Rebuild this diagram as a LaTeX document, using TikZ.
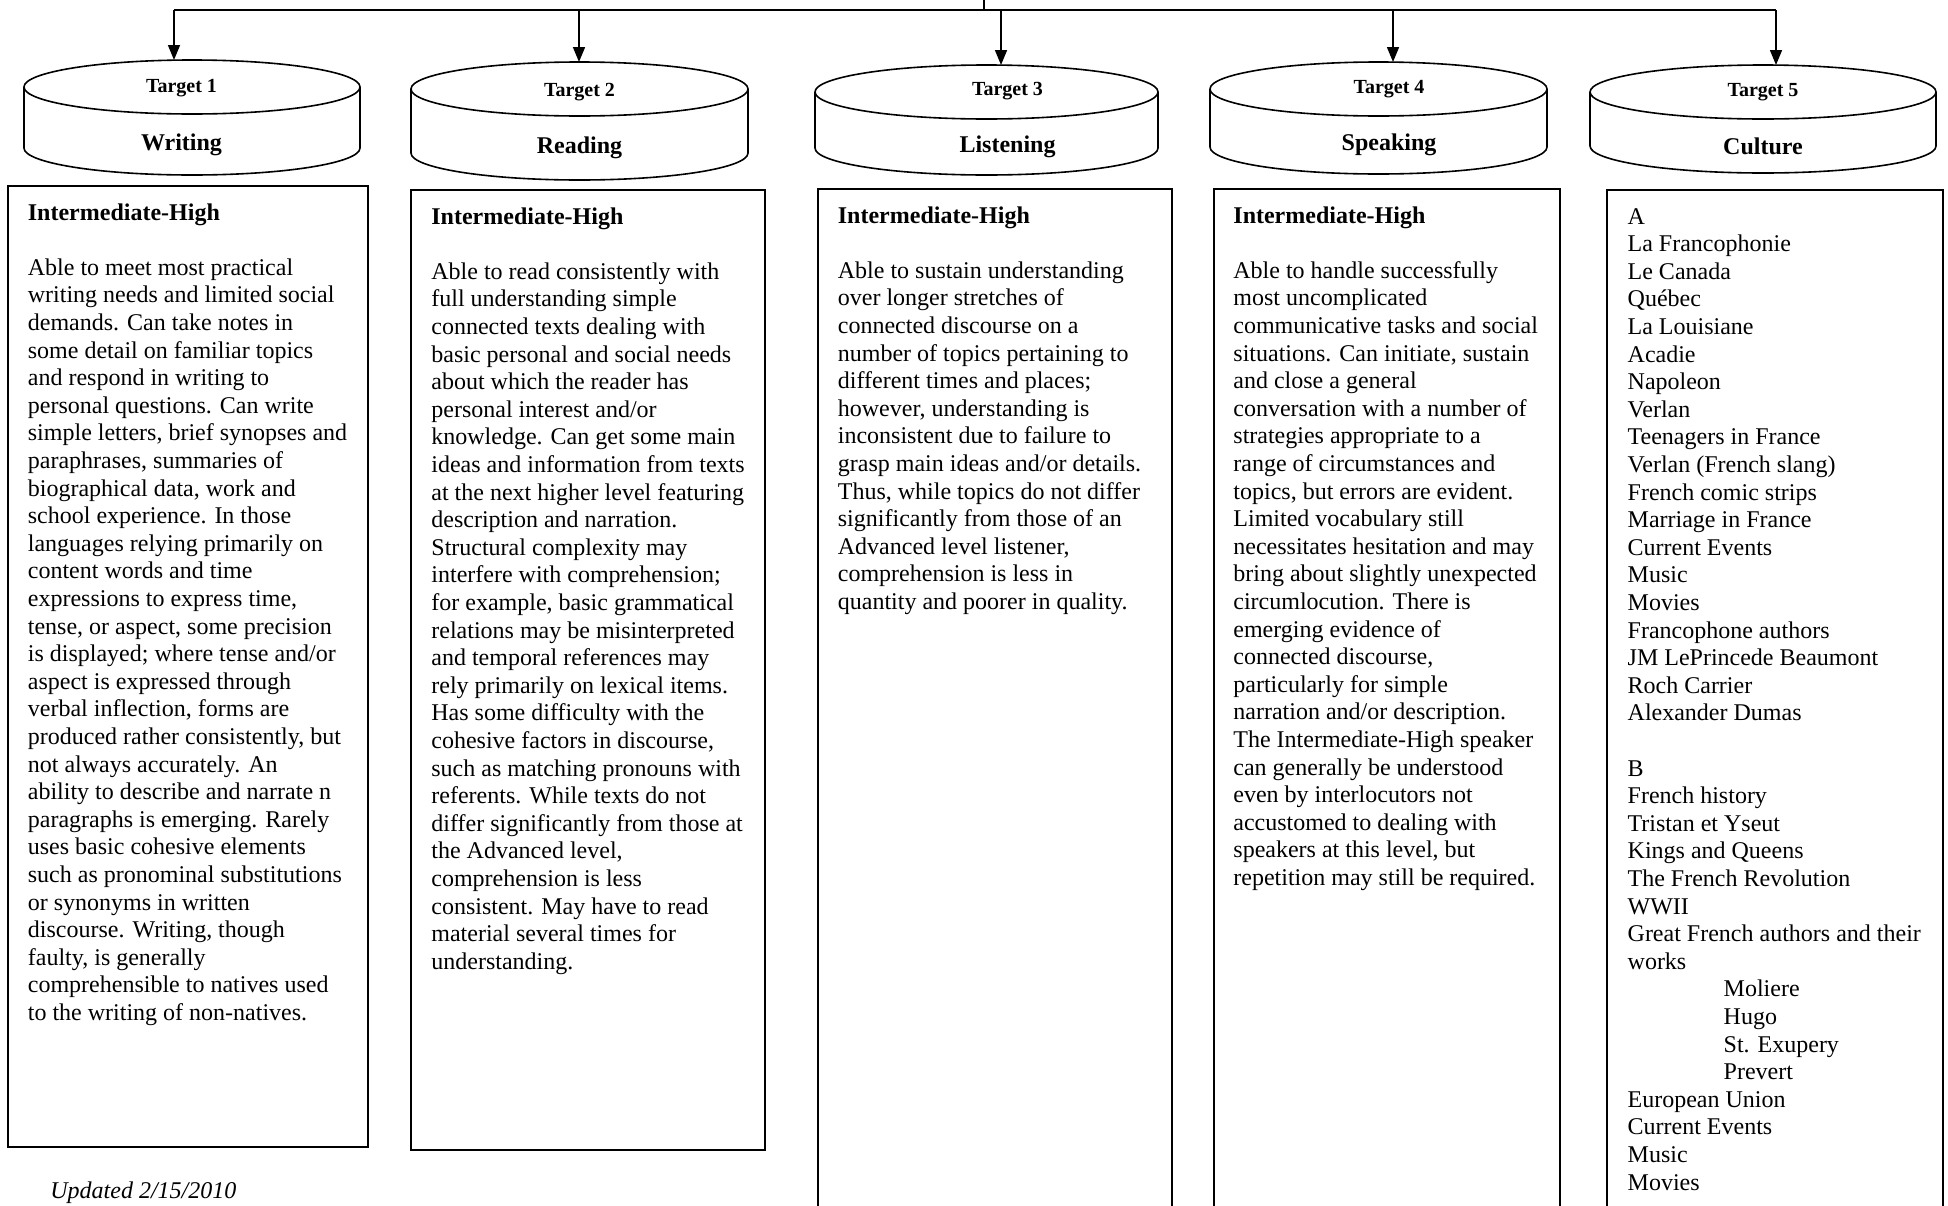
\documentclass[tikz,border=0pt]{standalone}
\usepackage{fontspec}
\setmainfont{Liberation Serif}
\usepackage{tikz}
\usetikzlibrary{arrows.meta,positioning}

\begin{document}
\begin{tikzpicture}[
  x=0.5pt, y=-0.5pt,
  drum/.style={rectangle, inner sep=0pt, outer sep=0pt, align=center, font=\bfseries\fontsize{12}{13.8}\selectfont},
  rim/.style={line width=0.8pt},
  panel/.style={rectangle, draw, line width=1pt, inner sep=0pt},
  blurb/.style={align=left, inner sep=0pt, font=\fontsize{12}{13.8}\selectfont},
  arrow/.style={-{Triangle[length=7.5pt,width=6pt]}, line width=0.8pt}
]
  \useasboundingbox (0,0) rectangle (1948,1205);

  % targets
  \node[drum, minimum width=168pt, minimum height=57.5pt] (cyl1) at (192,117.5) {{\fontsize{10}{12}\selectfont Target 1}\hspace*{10.5pt}\\[15pt]Writing\hspace*{10.5pt}};
  \node[drum, minimum width=168.5pt, minimum height=59pt] (cyl2) at (579.5,121) {{\fontsize{10}{12}\selectfont Target 2}\\[15pt]Reading};
  \node[drum, minimum width=171.5pt, minimum height=55pt] (cyl3) at (986.5,120) {\hspace*{21pt}{\fontsize{10}{12}\selectfont Target 3}\\[15pt]\hspace*{21pt}Listening};
  \node[drum, minimum width=168.5pt, minimum height=56pt] (cyl4) at (1378.5,118) {\hspace*{10.5pt}{\fontsize{10}{12}\selectfont Target 4}\\[15pt]\hspace*{10.5pt}Speaking};
  \node[drum, minimum width=173pt, minimum height=54pt] (cyl5) at (1763,119) {{\fontsize{10}{12}\selectfont Target 5}\\[15pt]Culture};

  \draw[rim] ([yshift=-13.5pt]cyl1.north) ellipse [x radius=84pt, y radius=13.5pt]
    ([yshift=-13.5pt]cyl1.north west) -- ([yshift=13.5pt]cyl1.south west) arc [start angle=180, end angle=360, x radius=84pt, y radius=13.5pt] -- ([yshift=-13.5pt]cyl1.north east);
  \draw[rim] ([yshift=-13.5pt]cyl2.north) ellipse [x radius=84.25pt, y radius=13.5pt]
    ([yshift=-13.5pt]cyl2.north west) -- ([yshift=13.5pt]cyl2.south west) arc [start angle=180, end angle=360, x radius=84.25pt, y radius=13.5pt] -- ([yshift=-13.5pt]cyl2.north east);
  \draw[rim] ([yshift=-13.5pt]cyl3.north) ellipse [x radius=85.75pt, y radius=13.5pt]
    ([yshift=-13.5pt]cyl3.north west) -- ([yshift=13.5pt]cyl3.south west) arc [start angle=180, end angle=360, x radius=85.75pt, y radius=13.5pt] -- ([yshift=-13.5pt]cyl3.north east);
  \draw[rim] ([yshift=-13.5pt]cyl4.north) ellipse [x radius=84.25pt, y radius=13.5pt]
    ([yshift=-13.5pt]cyl4.north west) -- ([yshift=13.5pt]cyl4.south west) arc [start angle=180, end angle=360, x radius=84.25pt, y radius=13.5pt] -- ([yshift=-13.5pt]cyl4.north east);
  \draw[rim] ([yshift=-13.5pt]cyl5.north) ellipse [x radius=86.5pt, y radius=13.5pt]
    ([yshift=-13.5pt]cyl5.north west) -- ([yshift=13.5pt]cyl5.south west) arc [start angle=180, end angle=360, x radius=86.5pt, y radius=13.5pt] -- ([yshift=-13.5pt]cyl5.north east);

  % panels
  \node[panel, minimum width=180.25pt, minimum height=480.5pt] (box1) at (187.75,666.5) {};
  \node[panel, minimum width=177pt, minimum height=480pt] (box2) at (588,670) {};
  \node[panel, minimum width=177pt, minimum height=535.5pt] (box3) at (994.5,724.5) {};
  \node[panel, minimum width=173pt, minimum height=535.5pt] (box4) at (1387,724.5) {};
  \node[panel, minimum width=168pt, minimum height=535pt] (box5) at (1775.25,725) {};

  \node[blurb, below right=7.7pt and 10.5pt of box1.north west] (txt1) {\strut\textbf{Intermediate-High}\\[13.8pt]
    Able to meet most practical\\
    writing needs and limited social\\
    demands.  Can take notes in\\
    some detail on familiar topics\\
    and respond in writing to\\
    personal questions.  Can write\\
    simple letters, brief synopses and\\
    paraphrases, summaries of\\
    biographical data, work and\\
    school experience.  In those\\
    languages relying primarily on\\
    content words and time\\
    expressions to express time,\\
    tense, or aspect, some precision\\
    is displayed; where tense and/or\\
    aspect is expressed through\\
    verbal inflection, forms are\\
    produced rather consistently, but\\
    not always accurately.  An\\
    ability to describe and narrate n\\
    paragraphs is emerging.  Rarely\\
    uses basic cohesive elements\\
    such as pronominal substitutions\\
    or synonyms in written\\
    discourse.  Writing, though\\
    faulty, is generally\\
    comprehensible to natives used\\
    to the writing of non-natives.};

  \node[blurb, below right=7.7pt and 10.5pt of box2.north west] (txt2) {\strut\textbf{Intermediate-High}\\[13.8pt]
    Able to read consistently with\\
    full understanding simple\\
    connected texts dealing with\\
    basic personal and social needs\\
    about which the reader has\\
    personal interest and/or\\
    knowledge.  Can get some main\\
    ideas and information from texts\\
    at the next higher level featuring\\
    description and narration.\\
    Structural complexity may\\
    interfere with comprehension;\\
    for example, basic grammatical\\
    relations may be misinterpreted\\
    and temporal references may\\
    rely primarily on lexical items.\\
    Has some difficulty with the\\
    cohesive factors in discourse,\\
    such as matching pronouns with\\
    referents.  While texts do not\\
    differ significantly from those at\\
    the Advanced level,\\
    comprehension is less\\
    consistent.  May have to read\\
    material several times for\\
    understanding.};

  \node[blurb, below right=7.7pt and 10.5pt of box3.north west] (txt3) {\strut\textbf{Intermediate-High}\\[13.8pt]
    Able to sustain understanding\\
    over longer stretches of\\
    connected discourse on a\\
    number of topics pertaining to\\
    different times and places;\\
    however, understanding is\\
    inconsistent due to failure to\\
    grasp main ideas and/or details.\\
    Thus, while topics do not differ\\
    significantly from those of an\\
    Advanced level listener,\\
    comprehension is less in\\
    quantity and poorer in quality.};

  \node[blurb, below right=7.7pt and 10pt of box4.north west] (txt4) {\strut\textbf{Intermediate-High}\\[13.8pt]
    Able to handle successfully\\
    most uncomplicated\\
    communicative tasks and social\\
    situations.  Can initiate, sustain\\
    and close a general\\
    conversation with a number of\\
    strategies appropriate to a\\
    range of circumstances and\\
    topics, but errors are evident.\\
    Limited vocabulary still\\
    necessitates hesitation and may\\
    bring about slightly unexpected\\
    circumlocution.  There is\\
    emerging evidence of\\
    connected discourse,\\
    particularly for simple\\
    narration and/or description.\\
    The Intermediate-High speaker\\
    can generally be understood\\
    even by interlocutors not\\
    accustomed to dealing with\\
    speakers at this level, but\\
    repetition may still be required.};

  \node[blurb, below right=7.7pt and 10.5pt of box5.north west] (txt5) {\strut A\\
    La Francophonie\\
    Le Canada\\
    Québec\\
    La Louisiane\\
    Acadie\\
    Napoleon\\
    Verlan\\
    Teenagers in France\\
    Verlan (French slang)\\
    French comic strips\\
    Marriage in France\\
    Current Events\\
    Music\\
    Movies\\
    Francophone authors\\
    JM LePrincede Beaumont\\
    Roch Carrier\\
    Alexander Dumas\\[13.8pt]
    B\\
    French history\\
    Tristan et Yseut\\
    Kings and Queens\\
    The French Revolution\\
    WWII\\
    Great French authors and their\\
    works\\
    \hspace*{48pt}Moliere\\
    \hspace*{48pt}Hugo\\
    \hspace*{48pt}St. Exupery\\
    \hspace*{48pt}Prevert\\
    European Union\\
    Current Events\\
    Music\\
    Movies};

  \node[font=\itshape\fontsize{12}{13.8}\selectfont, anchor=base west, inner sep=0pt] (stamp) at (50,1198) {Updated 2/15/2010};

  % connectors
  \coordinate (feed) at (984,-20);
  \coordinate (hub) at (984,10);
  \coordinate (t1) at (174,10);
  \coordinate (t2) at (579,10);
  \coordinate (t3) at (1001,10);
  \coordinate (t4) at (1393,10);
  \coordinate (t5) at (1776,10);
  \draw[line width=0.8pt] (feed) -- (hub);
  \draw[line width=0.8pt] (t1) -- (t5);
  \draw[arrow] (t1) -- (t1 |- cyl1.north);
  \draw[arrow] (t2) -- (t2 |- cyl2.north);
  \draw[arrow] (t3) -- (t3 |- cyl3.north);
  \draw[arrow] (t4) -- (t4 |- cyl4.north);
  \draw[arrow] (t5) -- (t5 |- cyl5.north);
\end{tikzpicture}
\end{document}
